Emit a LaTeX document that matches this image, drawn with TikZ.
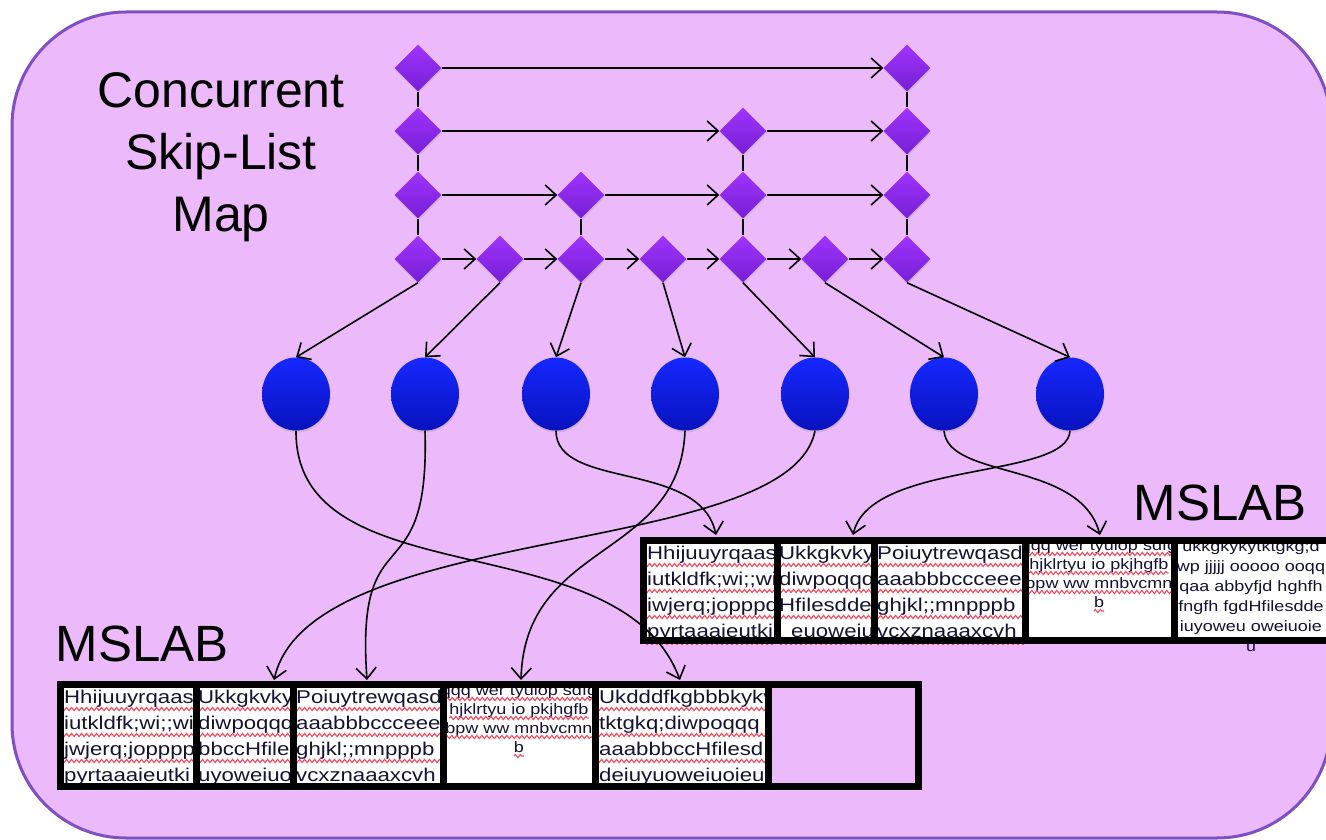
\documentclass[tikz,border=0pt]{standalone}
\usepackage{fontspec}
\setmainfont{Liberation Sans}
\newfontfamily\cellfont[FakeStretch=1.2]{Liberation Sans}
\usetikzlibrary{shapes.geometric,arrows.meta,decorations.pathmorphing,shadows}

\definecolor{panel}{RGB}{236,186,250}
\definecolor{paneledge}{RGB}{125,80,196}
\definecolor{gemtop}{RGB}{160,52,252}
\definecolor{gembot}{RGB}{118,30,214}
\definecolor{balltop}{RGB}{22,40,255}
\definecolor{ballbot}{RGB}{8,18,190}
\definecolor{inktext}{RGB}{20,20,50}
\definecolor{spellred}{RGB}{250,70,90}

% rows of text in a slab cell, each with a wavy spell-check underline
\newcommand\spellrows[6]{% prefix, clip left, clip right, text x, first baseline, lines
  \begin{scope}
    \clip (#2,#5-40) rectangle (#3,#5+110);
    \foreach \txt [count=\k] in {#6} {
      \pgfmathsetmacro\yb{#5+26*(\k-1)}
      \draw[squiggle] (#2,\yb+6) -- (#3,\yb+6);
      \node[celltext] (#1\k) at (#4,\yb) {\txt};
    }
  \end{scope}}

% smaller centred rows, underlined only beneath the text
\newcommand\smallrows[6]{% prefix, clip left, clip right, centre x, first baseline, lines
  \begin{scope}
    \clip (#2,#5-30) rectangle (#3,#5+90);
    \foreach \txt [count=\k] in {#6} {
      \pgfmathsetmacro\yb{#5+19*(\k-1)}
      \node[smalltext] (#1\k) at (#4,\yb) {\txt};
      \draw[squiggle] ([yshift=-4pt]#1\k.base west) -- ([yshift=-4pt]#1\k.base east);
    }
  \end{scope}}

\begin{document}
\begin{tikzpicture}[x=1pt,y=-1pt,
  gem/.style={diamond, minimum width=47pt, minimum height=47pt, inner sep=0pt,
    top color=gemtop, bottom color=gembot, draw=none,
    drop shadow={opacity=0.22, shadow xshift=0.5pt, shadow yshift=-2pt}},
  ball/.style={ellipse, minimum width=68pt, minimum height=73pt, inner sep=0pt,
    top color=balltop, bottom color=ballbot, draw=none,
    drop shadow={opacity=0.22, shadow xshift=0.5pt, shadow yshift=-2pt}},
  link/.style={line width=1.8pt, black},
  arr/.style={line width=1.6pt, black, -{Straight Barb[length=11pt,width=20pt]}},
  boxline/.style={line width=7pt, black, line cap=rect},
  celltext/.style={font=\cellfont\fontsize{18.5}{20}\selectfont, text=inktext, anchor=base west, inner sep=0pt},
  smalltext/.style={font=\cellfont\fontsize{15}{17}\selectfont, text=inktext, anchor=base, inner sep=0pt},
  squiggle/.style={draw=spellred, line width=1.1pt, decorate,
    decoration={snake, amplitude=1.6pt, segment length=5pt}},
  label/.style={font=\fontsize{51}{60}\selectfont, text=black, anchor=base, inner sep=0pt}
]
\useasboundingbox (0,0) rectangle (1326,840);
\fill[white] (0,0) rectangle (1326,840);

% panel
\draw[fill=panel, draw=paneledge, line width=3pt, rounded corners=114pt] (12,12) rectangle (1331,838);

% titles
\node[font=\fontsize{50}{62}\selectfont, align=center, text=black] (title) at (221,157) {Concurrent\\Skip-List\\Map};
\node[label] (slabU) at (1220,520) {MSLAB};
\node[label] (slabL) at (142,661) {MSLAB};

% skip-list towers
\node[gem] (d00) at (418,68) {};
\node[gem] (d01) at (418,131) {};
\node[gem] (d02) at (418,195) {};
\node[gem] (d03) at (418,259) {};
\node[gem] (d13) at (500,259) {};
\node[gem] (d22) at (581,195) {};
\node[gem] (d23) at (581,259) {};
\node[gem] (d33) at (663,259) {};
\node[gem] (d41) at (743,131) {};
\node[gem] (d42) at (743,195) {};
\node[gem] (d43) at (743,259) {};
\node[gem] (d53) at (825,259) {};
\node[gem] (d60) at (907,68) {};
\node[gem] (d61) at (907,131) {};
\node[gem] (d62) at (907,195) {};
\node[gem] (d63) at (907,259) {};

% tower links
\draw[link] (d00.south) -- (d01.north);
\draw[link] (d01.south) -- (d02.north);
\draw[link] (d02.south) -- (d03.north);
\draw[link] (d22.south) -- (d23.north);
\draw[link] (d41.south) -- (d42.north);
\draw[link] (d42.south) -- (d43.north);
\draw[link] (d60.south) -- (d61.north);
\draw[link] (d61.south) -- (d62.north);
\draw[link] (d62.south) -- (d63.north);

% level pointers
\draw[arr] (d00.east) -- (d60.west);
\draw[arr] (d01.east) -- (d41.west);
\draw[arr] (d41.east) -- (d61.west);
\draw[arr] (d02.east) -- (d22.west);
\draw[arr] (d22.east) -- (d42.west);
\draw[arr] (d42.east) -- (d62.west);
\draw[arr] (d03.east) -- (d13.west);
\draw[arr] (d13.east) -- (d23.west);
\draw[arr] (d23.east) -- (d33.west);
\draw[arr] (d33.east) -- (d43.west);
\draw[arr] (d43.east) -- (d53.west);
\draw[arr] (d53.east) -- (d63.west);

% values
\node[ball] (c1) at (296,394) {};
\node[ball] (c2) at (425,394) {};
\node[ball] (c3) at (556,394) {};
\node[ball] (c4) at (685,394) {};
\node[ball] (c5) at (815,394) {};
\node[ball] (c6) at (944,394) {};
\node[ball] (c7) at (1070,394) {};

\draw[arr] (d03.south) -- (c1.north);
\draw[arr] (d13.south) -- (c2.north);
\draw[arr] (d23.south) -- (c3.north);
\draw[arr] (d33.south) -- (c4.north);
\draw[arr] (d43.south) -- (c5.north);
\draw[arr] (d53.south) -- (c6.north);
\draw[arr] (d63.south) -- (c7.north);

% slab backgrounds
\fill[white] (643,540) rectangle (1345,640);
\fill[white] (60,684) rectangle (768,786);

% upper slab contents
\spellrows{ua}{643}{777}{647}{559}{Hhijuuyrqaasd, iutkldfk;wi;;wi, iwjerq;jopppd, pyrtaaaieutki}
\spellrows{ub}{777}{874}{779}{559}{Ukkgkvkyi, diwpoqqq, Hfilesdde, {\hspace*{12pt}euoweiu}}
\spellrows{uc}{874}{1025}{877}{559}{Poiuytrewqasd, aaabbbccceee, ghjkl;;mnpppb, vcxznaaaxcvh}
\smallrows{ud}{1025}{1174}{1099}{550}{qqq wer tyuiop sdfg, hjklrtyu io pkjhgfb, bpw ww mnbvcmn, b}
\begin{scope}
  \clip (1174,520) rectangle (1345,670);
  \foreach \txt [count=\k] in {ukkgkykytktgkg;d, wp jjjjj ooooo ooqq, qaa abbyfjd hghfh, fngfh fgdHfilesdde, iuyoweu oweiuoie, u} {
    \pgfmathsetmacro\yb{551+20*(\k-1)}
    \node[smalltext] (ue\k) at (1251,\yb) {\txt};
  }
\end{scope}

% lower slab contents
\spellrows{la}{60}{196}{64}{703}{Hhijuuyrqaasd, iutkldfk;wi;;wi, jwjerq;joppppd, pyrtaaaieutki}
\spellrows{lb}{196}{293}{198}{703}{Ukkgkvkyi, diwpoqqq, bbccHfile, uyoweiuo}
\spellrows{lc}{293}{443}{296}{703}{Poiuytrewqasd, aaabbbccceee, ghjkl;;mnpppb, vcxznaaaxcvh}
\smallrows{ld}{443}{595}{519}{695}{qqq wer tyuiop sdfg, hjklrtyu io pkjhgfb, bpw ww mnbvcmn, b}
\spellrows{le}{595}{768}{599}{703}{Ukdddfkgbbbkykv, tktgkq;diwpoqqq, aaabbbccHfilesd, deiuyuoweiuoieu}

% slab frames
\draw[boxline] (643,540) rectangle (1345,640);
\foreach \xd in {777,874,1025,1174} \draw[boxline] (\xd,540) -- (\xd,640);
\draw[boxline] (60,684) rectangle (918,786);
\foreach \xd in {196,293,443,595,768} \draw[boxline] (\xd,684) -- (\xd,786);

% allocation targets
\coordinate (u1) at (716,535);
\coordinate (u2) at (853,535);
\coordinate (u4) at (1100,535);
\coordinate (l2) at (274,680);
\coordinate (l3) at (367,680);
\coordinate (l4) at (521,680);
\coordinate (l5) at (680,680);

\draw[arr] (c1.south) .. controls (295,600) and (620,520) .. (l5);
\draw[arr] (c2.south) .. controls (430,600) and (355,510) .. (l3);
\draw[arr] (c3.south) .. controls (556,490) and (700,460) .. (u1);
\draw[arr] (c4.south) .. controls (680,560) and (525,540) .. (l4);
\draw[arr] (c5.south) .. controls (790,560) and (310,520) .. (l2);
\draw[arr] (c6.south) .. controls (948,480) and (1080,460) .. (u4);
\draw[arr] (c7.south) .. controls (1068,480) and (870,460) .. (u2);
\end{tikzpicture}
\end{document}
